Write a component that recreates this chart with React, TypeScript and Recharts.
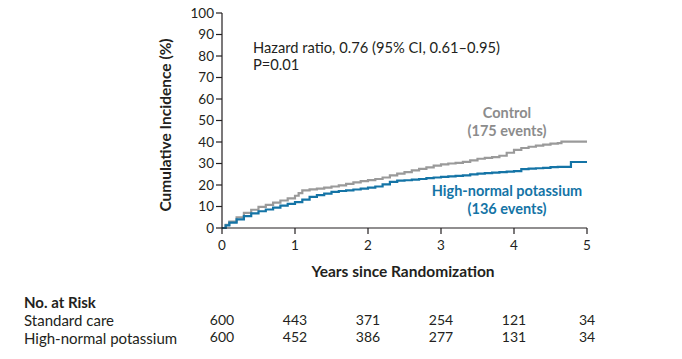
import React from 'react';
import { LineChart, Line, XAxis, YAxis } from 'recharts';

const controlYears = [0, 0.05, 0.1, 0.2, 0.3, 0.4, 0.5, 0.6, 0.7, 0.8, 0.9, 1.0, 1.05, 1.1, 1.2, 1.3, 1.4, 1.5, 1.6, 1.7, 1.8, 1.9, 2.0, 2.1, 2.2, 2.3, 2.4, 2.5, 2.6, 2.7, 2.8, 2.9, 3.0, 3.1, 3.2, 3.3, 3.4, 3.5, 3.6, 3.7, 3.8, 3.9, 4.0, 4.1, 4.2, 4.3, 4.4, 4.5, 4.6, 4.65, 5.0];
const controlPct = [0, 1.5, 3, 5, 7, 8.5, 9.8, 10.8, 11.8, 12.8, 13.8, 15, 16.2, 17.5, 18, 18.3, 18.8, 19.3, 19.8, 20.5, 21.2, 21.8, 22.3, 22.8, 23.5, 24.5, 25.3, 26, 26.8, 27.5, 28.2, 29, 29.6, 30, 30.3, 30.8, 31.5, 32.2, 32.6, 33, 33.6, 35, 36.3, 37.2, 37.8, 38.3, 38.8, 39.2, 39.5, 40.2, 40.2];

const highNormalYears = [0, 0.05, 0.1, 0.2, 0.3, 0.4, 0.5, 0.6, 0.7, 0.8, 0.9, 1.0, 1.1, 1.2, 1.3, 1.4, 1.5, 1.6, 1.7, 1.8, 1.9, 2.0, 2.1, 2.2, 2.3, 2.4, 2.5, 2.6, 2.7, 2.8, 2.9, 3.0, 3.1, 3.2, 3.3, 3.4, 3.5, 3.6, 3.7, 3.8, 3.9, 4.0, 4.1, 4.2, 4.3, 4.4, 4.5, 4.6, 4.78, 5.0];
const highNormalPct = [0, 1.2, 2.5, 4, 5.5, 6.8, 7.8, 8.6, 9.5, 10.4, 11.2, 12, 13.2, 14.5, 15.3, 16, 16.8, 17.2, 17.5, 17.9, 18.3, 18.8, 19.3, 20.3, 21.5, 22, 22.2, 22.5, 22.8, 23.2, 23.5, 23.8, 24, 24.2, 24.5, 24.9, 25.3, 25.5, 25.8, 26, 26.2, 26.5, 27.4, 27.6, 27.8, 28, 28.3, 28.4, 30.7, 30.7];

const xTicks = [0, 1, 2, 3, 4, 5];
const yTicks = [0, 10, 20, 30, 40, 50, 60, 70, 80, 90, 100];
const riskStandardCare = [600, 443, 371, 254, 121, 34];
const riskHighNormal = [600, 452, 386, 277, 131, 34];

const controlData = controlYears.map((t, i) => ({ t, v: controlPct[i] }));
const highNormalData = highNormalYears.map((t, i) => ({ t, v: highNormalPct[i] }));

const FONT = 'Lato, "Open Sans", sans-serif';
const GREY = '#9a9a9a';
const BLUE = '#1474a6';
const INK = '#231f20';

const XTick = (props: any) => {
  const { x, y, payload } = props;
  const i = xTicks.indexOf(payload.value);
  return (
    <g fontFamily={FONT}>
      <text x={x} y={y + 13.5} textAnchor="middle" fill={INK} fontSize={13.5}>{payload.value}</text>
      <text x={x} y={y + 88.7} textAnchor="middle" fill={INK} fontSize={14}>{riskStandardCare[i]}</text>
      <text x={x} y={y + 106} textAnchor="middle" fill={INK} fontSize={14}>{riskHighNormal[i]}</text>
    </g>
  );
};

const abs = (left: number, top: number, extra: React.CSSProperties = {}): React.CSSProperties => ({
  position: 'absolute', left, top, whiteSpace: 'nowrap', fontFamily: FONT, color: INK, fontSize: 13, lineHeight: 1, ...extra,
});

export default function App() {
  return (
    <div style={{ position: 'absolute', left: 0, top: 0, width: 682, height: 359, background: '#fff' }}>
      <LineChart width={682} height={359} margin={{ top: 13, right: 95, bottom: 100, left: 182 }}>
        <XAxis
          dataKey="t"
          type="number"
          domain={[0, 5]}
          ticks={xTicks}
          allowDuplicatedCategory={false}
          height={31}
          tickSize={6}
          stroke={INK}
          strokeWidth={1.2}
          tick={<XTick />}
        />
        <YAxis
          dataKey="v"
          type="number"
          domain={[0, 100]}
          ticks={yTicks}
          width={40}
          tickSize={6}
          stroke={INK}
          strokeWidth={1.2}
          tick={{ fill: INK, fontSize: 13.5, fontFamily: FONT }}
          interval={0}
        />
        <Line data={controlData} dataKey="v" type="stepAfter" stroke={GREY} strokeWidth={2.2} dot={false} isAnimationActive={false} />
        <Line data={highNormalData} dataKey="v" type="stepAfter" stroke={BLUE} strokeWidth={2.2} dot={false} isAnimationActive={false} />
      </LineChart>

      <div style={abs(166, 124.5, { fontWeight: 700, fontSize: 15.5, transform: 'translate(-50%, -50%) rotate(-90deg)' })}>Cumulative Incidence (%)</div>
      <div style={abs(403, 272, { fontWeight: 700, fontSize: 15.5, transform: 'translate(-50%, -50%)' })}>Years since Randomization</div>

      <div style={abs(253, 39.5, { fontSize: 14.7 })}>Hazard ratio, 0.76 (95% CI, 0.61–0.95)</div>
      <div style={abs(253, 57, { fontSize: 14.7 })}>P=0.01</div>

      <div style={abs(507, 113, { fontWeight: 700, fontSize: 14.5, color: '#8c8c8c', transform: 'translate(-50%, -50%)' })}>Control</div>
      <div style={abs(507, 131, { fontWeight: 700, fontSize: 14.5, color: '#8c8c8c', transform: 'translate(-50%, -50%)' })}>(175 events)</div>
      <div style={abs(507, 191, { fontWeight: 700, fontSize: 14.5, color: BLUE, transform: 'translate(-50%, -50%)' })}>High-normal potassium</div>
      <div style={abs(507, 208.5, { fontWeight: 700, fontSize: 14.5, color: BLUE, transform: 'translate(-50%, -50%)' })}>(136 events)</div>

      <div style={abs(24, 302, { fontWeight: 700, fontSize: 15, transform: 'translateY(-50%)' })}>No. at Risk</div>
      <div style={abs(24, 320, { fontSize: 15, transform: 'translateY(-50%)' })}>Standard care</div>
      <div style={abs(24, 337.5, { fontSize: 15, transform: 'translateY(-50%)' })}>High-normal potassium</div>
    </div>
  );
}
